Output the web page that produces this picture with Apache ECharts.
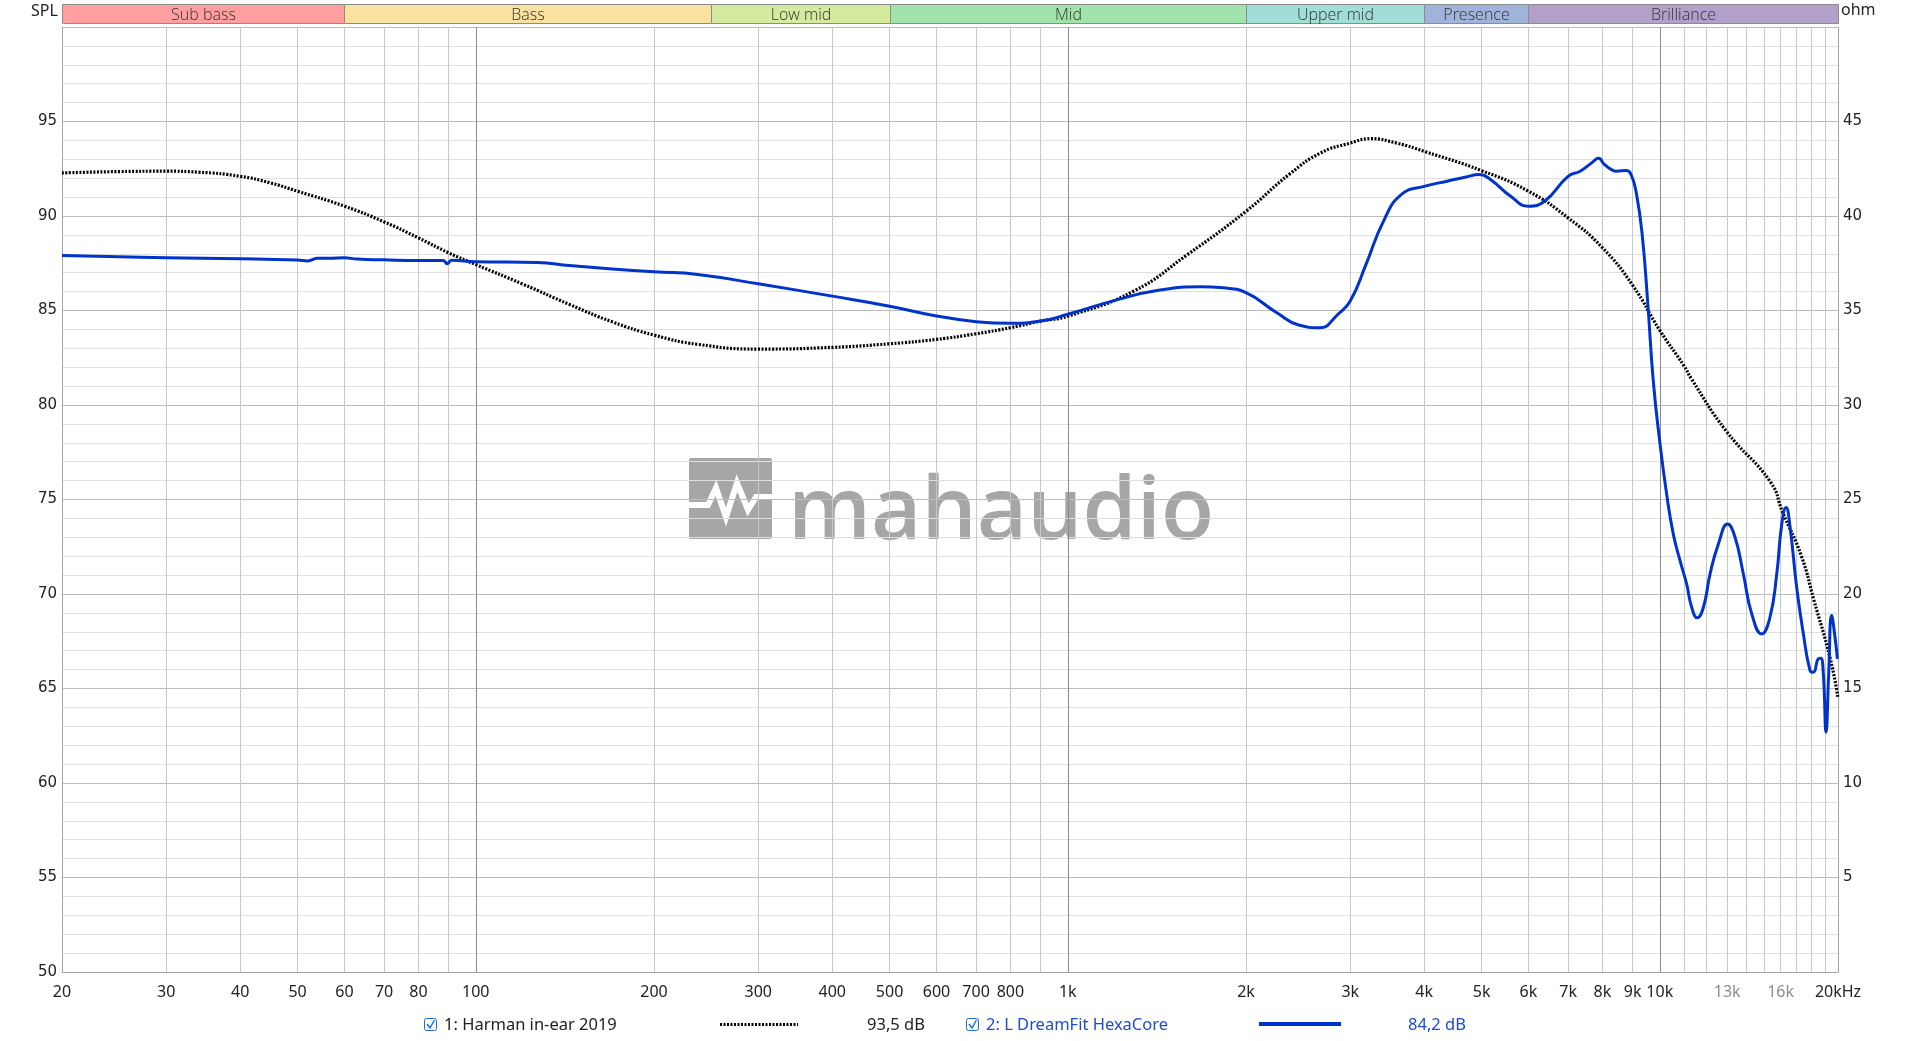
<!DOCTYPE html>
<html>
<head>
<meta charset="utf-8">
<script src="https://cdn.jsdelivr.net/npm/echarts@6/dist/echarts.min.js"></script>
<style>
html,body{margin:0;padding:0;background:#fff;}
#chart{width:1920px;height:1041px;}
</style>
</head>
<body>
<div id="chart"></div>
<script>
// ---------- DATA ----------
const harmanFreq = [20,25,30,34,40,45,50,60,70,80,90,100,120,144,170,200,237,300,400,500,600,700,800,900,1000,1293,1593,2000,2376,2672,3000,3247,3600,4000,5000,6000,7000,8000,9000,10000,11000,11300,12950,15400,16100,17350,18200,19400,20000];
const harmanDb   = [92.28,92.35,92.37,92.32,92.10,91.75,91.31,90.52,89.69,88.84,88.05,87.43,86.40,85.32,84.40,83.70,83.21,82.96,83.05,83.24,83.47,83.77,84.09,84.44,84.70,86.03,87.96,90.25,92.25,93.33,93.86,94.09,93.85,93.42,92.40,91.31,89.90,88.32,86.33,83.95,82.05,81.40,78.62,75.90,74.38,72.00,69.70,66.60,64.50];

const dreamFreq = [20,25,30,40,50,52,54,57,60,63,70,80,88,89.5,91,100,127,144,170,200,237,300,400,500,600,700,800,900,1000,1218,1416,1679,1829,2000,2255,2455,2662,2860,3000,3190,3415,3658,4000,4372,4686,4959,5175,5598,6000,6388,7000,7338,7700,7880,8050,8330,8440,8770,8950,9140,9340,9540,9750,10000,10270,10540,10820,11100,11320,11570,11850,12160,12560,13020,13400,13840,14300,14860,15350,15760,16070,16340,16600,17030,17480,17940,18170,18530,18700,18890,19090,19290,19510,19770,19950];
const dreamDb   = [87.91,87.85,87.79,87.74,87.67,87.62,87.76,87.77,87.79,87.72,87.68,87.65,87.65,87.48,87.66,87.58,87.54,87.38,87.20,87.05,86.91,86.41,85.76,85.23,84.71,84.41,84.32,84.44,84.80,85.59,86.06,86.26,86.20,85.94,84.88,84.23,84.09,84.80,85.50,87.44,89.73,91.13,91.57,91.84,92.05,92.19,91.93,91.04,90.52,90.78,92.10,92.37,92.85,93.06,92.75,92.41,92.37,92.41,92.17,91.11,88.99,85.45,81.27,78.05,75.29,73.17,71.76,70.53,69.30,68.74,69.30,71.06,72.65,73.70,73.00,71.06,68.95,67.89,68.77,71.06,73.70,74.58,73.52,70.35,67.89,65.95,65.86,66.57,66.60,65.78,62.69,65.78,68.86,67.71,66.57];

const xTickValues = [20,30,40,50,60,70,80,100,200,300,400,500,600,700,800,1000,2000,3000,4000,5000,6000,7000,8000,9000,10000,13000,16000,20000];
const xTickLabels = ['20','30','40','50','60','70','80','100','200','300','400','500','600','700','800','1k','2k','3k','4k','5k','6k','7k','8k','9k','10k','13k','16k','20kHz'];
const xMutedTicks = [13000,16000];
const xGridValues = [20,30,40,50,60,70,80,90,100,200,300,400,500,600,700,800,900,1000,2000,3000,4000,5000,6000,7000,8000,9000,10000,11000,12000,13000,14000,15000,16000,17000,18000,19000,20000];
const xMajorGridValues = [100,1000,10000];

const bandNames = ['Sub bass','Bass','Low mid','Mid','Upper mid','Presence','Brilliance'];
const bandEdges = [20,60,250,500,2000,4000,6000,20000];

const legendNames = ['1: Harman in-ear 2019','2: L DreamFit HexaCore'];
const legendValues = ['93,5 dB','84,2 dB'];

// ---------- STYLES ----------
const bandColors = ['#ff9f9f','#f9e1a0','#d4eb9f','#a1e3aa','#a1ded8','#a0b4db','#b3a0c8'];
const BLUE = '#0033cc';
const LEGEND_BLUE = '#1f4ccf';
const FONT = '"Noto Sans", "DejaVu Sans", sans-serif';
const YFONT = '"DejaVu Sans", "Noto Sans", sans-serif';

function zip(a, b) { return a.map((v, i) => [v, b[i]]); }

const chart = echarts.init(document.getElementById('chart'), null, {renderer: 'canvas'});

function xLabelFmt(v) {
  const i = xTickValues.findIndex(t => Math.abs(t - v) / t < 1e-6);
  if (i < 0) return '';
  const muted = xMutedTicks.some(t => Math.abs(t - v) / t < 1e-6);
  return (muted ? '{g|' : '{n|') + xTickLabels[i] + '}';
}

const option = {
  backgroundColor: '#ffffff',
  animation: false,
  grid: [
    {left: 62, right: 82, top: 27, bottom: 69, containLabel: false},
    {left: 62, right: 82, top: 4, height: 20, containLabel: false}
  ],
  xAxis: [
    {
      type: 'log', logBase: 10, min: 20, max: 20000, gridIndex: 0,
      axisLine: {show: true, lineStyle: {color: '#a6a6a6', width: 1}},
      axisTick: {show: false, customValues: xGridValues},
      axisLabel: {
        customValues: xTickValues, formatter: xLabelFmt, margin: 12,
        rich: {
          n: {color: '#222', fontFamily: FONT, fontSize: 16},
          g: {color: '#8c8c8c', fontFamily: FONT, fontSize: 16}
        }
      },
      splitLine: {show: true, lineStyle: {color: '#c8c8c8', width: 1}},
      minorSplitLine: {show: false}
    },
    {
      type: 'log', logBase: 10, min: 20, max: 20000, gridIndex: 0, position: 'top',
      axisLine: {show: false}, axisLabel: {show: false},
      axisTick: {show: false, customValues: xMajorGridValues},
      splitLine: {show: true, lineStyle: {color: '#8a8a8a', width: 1}}
    },
    {type: 'log', logBase: 10, min: 20, max: 20000, gridIndex: 1, show: false}
  ],
  yAxis: [
    {
      type: 'value', min: 50, max: 100, interval: 5, gridIndex: 0,
      axisLine: {show: true, lineStyle: {color: '#a6a6a6'}},
      axisTick: {show: false},
      axisLabel: {margin: 5, color: '#222', fontFamily: YFONT, fontSize: 15,
        formatter: v => (v >= 100 ? '' : String(v))},
      splitLine: {show: true, lineStyle: {color: '#bcbcbc', width: 1}},
      minorTick: {show: false, splitNumber: 5},
      minorSplitLine: {show: true, lineStyle: {color: '#e0e0e0', width: 1}}
    },
    {
      type: 'value', min: 0, max: 50, interval: 5, gridIndex: 0, position: 'right',
      axisLine: {show: true, lineStyle: {color: '#a6a6a6'}},
      axisTick: {show: false},
      axisLabel: {margin: 5, color: '#222', fontFamily: YFONT, fontSize: 15,
        formatter: v => (v <= 0 || v >= 50 ? '' : String(v))},
      splitLine: {show: false}
    },
    {type: 'value', min: 0, max: 1, gridIndex: 1, show: false}
  ],
  graphic: [
    // axis titles
    {type: 'text', left: 31, top: 3, z: 10, style: {text: 'SPL', fill: '#222', font: '16px ' + FONT}},
    {type: 'text', left: 1841, top: 2, z: 10, style: {text: 'ohm', fill: '#222', font: '16px ' + FONT}},
    // watermark
    {type: 'group', z: 1, silent: true, children: [
      {type: 'rect', shape: {x: 689, y: 458, width: 83, height: 81, r: 2}, style: {fill: '#a6a6a6'}},
      {type: 'polyline', shape: {points: [[689, 505], [708, 505], [716, 488], [726, 517], [737, 483], [748, 510], [756, 497], [772, 497]]},
        style: {stroke: '#ffffff', lineWidth: 6, fill: null, lineJoin: 'miter'}},
      {type: 'text', x: 788, y: 558, style: {text: 'mahaudio', fill: '#a6a6a6', font: '600 87px "Open Sans", "Noto Sans", sans-serif', verticalAlign: 'bottom'}}
    ]},
    // legend 1
    {type: 'rect', z: 10, shape: {x: 424.5, y: 1018.5, width: 12, height: 12, r: 2}, style: {fill: '#fff', stroke: '#1a6fd8', lineWidth: 1}},
    {type: 'polyline', z: 11, shape: {points: [[427, 1024], [430, 1028], [434.5, 1020]]}, style: {stroke: '#1a6fd8', lineWidth: 1.5, fill: null}},
    {type: 'text', z: 10, x: 444, y: 1025, style: {text: legendNames[0], fill: '#222', font: '16.5px ' + FONT, verticalAlign: 'middle'}},
    {type: 'line', z: 10, shape: {x1: 720, y1: 1024.5, x2: 798, y2: 1024.5}, style: {stroke: '#000', lineWidth: 3, lineDash: [2, 1.5]}},
    {type: 'text', z: 10, x: 867, y: 1025, style: {text: legendValues[0], fill: '#222', font: '16.5px ' + FONT, verticalAlign: 'middle'}},
    // legend 2
    {type: 'rect', z: 10, shape: {x: 966.5, y: 1018.5, width: 12, height: 12, r: 2}, style: {fill: '#fff', stroke: '#1a6fd8', lineWidth: 1}},
    {type: 'polyline', z: 11, shape: {points: [[969, 1024], [972, 1028], [976.5, 1020]]}, style: {stroke: '#1a6fd8', lineWidth: 1.5, fill: null}},
    {type: 'text', z: 10, x: 986, y: 1025, style: {text: legendNames[1], fill: LEGEND_BLUE, font: '16.5px ' + FONT, verticalAlign: 'middle'}},
    {type: 'line', z: 10, shape: {x1: 1259, y1: 1024, x2: 1341, y2: 1024}, style: {stroke: BLUE, lineWidth: 4}},
    {type: 'text', z: 10, x: 1408, y: 1025, style: {text: legendValues[1], fill: LEGEND_BLUE, font: '16.5px ' + FONT, verticalAlign: 'middle'}}
  ],
  series: [
    {
      type: 'custom', xAxisIndex: 2, yAxisIndex: 2, silent: true,
      data: bandNames.map((n, i) => [bandEdges[i], bandEdges[i + 1], i]),
      encode: {x: [0, 1]},
      renderItem: function (params, api) {
        const i = api.value(2);
        const p0 = api.coord([api.value(0), 1]);
        const p1 = api.coord([api.value(1), 0]);
        const x0 = Math.round(p0[0]) + 0.5, x1 = Math.round(p1[0]) + 0.5;
        const y0 = Math.round(p0[1]) + 0.5, y1 = Math.round(p1[1]) - 0.5;
        return {
          type: 'group',
          children: [
            {type: 'rect', shape: {x: x0, y: y0, width: x1 - x0, height: y1 - y0},
              style: {fill: bandColors[i], stroke: '#8c8c8c', lineWidth: 1}},
            {type: 'text', style: {text: bandNames[i], x: (x0 + x1) / 2, y: (y0 + y1) / 2 + 1,
              align: 'center', verticalAlign: 'middle', fill: '#333',
              font: '300 16px "Open Sans", "Noto Sans", sans-serif'}}
          ]
        };
      }
    },
    {
      name: legendNames[0], type: 'line', xAxisIndex: 0, yAxisIndex: 0,
      data: zip(harmanFreq, harmanDb), showSymbol: false, smooth: 0.5,
      lineStyle: {color: '#000', width: 3.2, type: [2, 1.5]}, z: 3, silent: true
    },
    {
      name: legendNames[1], type: 'line', xAxisIndex: 0, yAxisIndex: 0,
      data: zip(dreamFreq, dreamDb), showSymbol: false, smooth: 0.5,
      lineStyle: {color: BLUE, width: 3, join: 'round'}, z: 4, silent: true
    }
  ]
};
chart.setOption(option);
</script>
</body>
</html>
